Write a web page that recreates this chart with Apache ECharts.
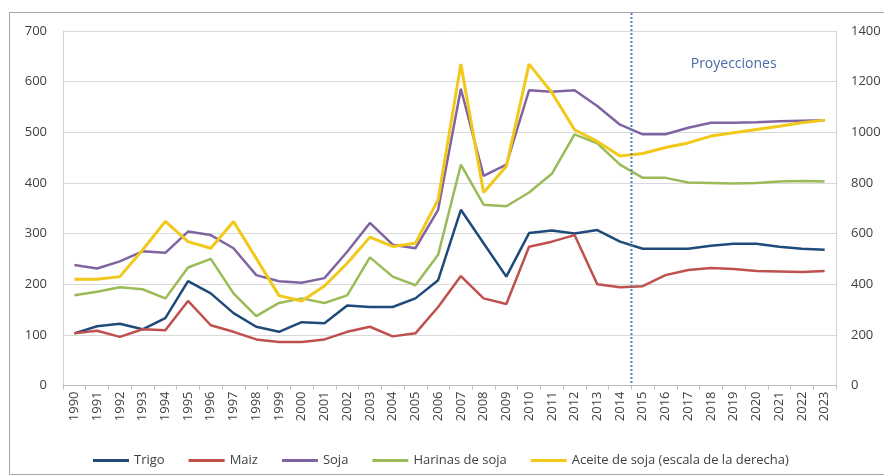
<!DOCTYPE html>
<html><head><meta charset="utf-8">
<script src="https://cdn.jsdelivr.net/npm/echarts@6/dist/echarts.min.js"></script>
<style>html,body{margin:0;padding:0;background:#fff}#c{width:884px;height:476px}</style>
</head><body><div id="c"></div>
<script>
const years = ['1990','1991','1992','1993','1994','1995','1996','1997','1998','1999','2000','2001','2002','2003','2004','2005','2006','2007','2008','2009','2010','2011','2012','2013','2014','2015','2016','2017','2018','2019','2020','2021','2022','2023'];
const trigo   = [103,117,122,111,133,206,182,143,116,106,125,123,158,155,155,172,208,347,281,215,301,306,300,307,284,270,270,270,276,280,280,274,270,268];
const maiz    = [103,108,96,111,109,167,119,106,91,86,86,91,106,116,97,103,155,216,172,161,274,284,297,200,194,196,218,228,232,230,226,225,224,226];
const soja    = [238,231,245,265,262,304,297,271,218,206,203,212,264,321,278,271,347,586,414,436,583,580,583,552,515,496,496,509,519,519,520,522,523,524];
const harinas = [178,185,194,190,172,233,250,182,137,163,172,163,178,253,215,198,258,436,357,354,381,418,496,478,436,410,410,401,400,399,400,403,404,403];
const aceite  = [420,420,430,535,648,568,542,648,502,355,334,393,483,586,549,562,734,1270,762,866,1269,1157,1010,964,906,916,940,958,985,998,1011,1024,1038,1048];
const leftTicks = {min:0, max:700, interval:100};
const rightTicks = {min:0, max:1400, interval:200};
const names = ['Trigo','Maiz','Soja','Harinas de soja','Aceite de soja (escala de la derecha)'];
const colors = ['#1f4a7a','#c0504d','#8064a2','#9bbb59','#f2c81a'];

const font = 'Open Sans';
const chart = echarts.init(document.getElementById('c'), null, {renderer:'canvas'});
function mk(name, data, color, yIdx, w){
  return {name, type:'line', data, yAxisIndex:yIdx, symbol:'none', smooth:false,
    lineStyle:{color, width:w}, itemStyle:{color}};
}
const option = {
  animation:false,
  textStyle:{fontFamily:font},
  grid:{left:63, right:48, top:31, bottom:90.5},
  legend:{left:88, top:449, icon:'rect', itemWidth:36, itemHeight:3, itemGap:24,
    textStyle:{fontFamily:font, fontSize:13, color:'#404040'}, data:names},
  xAxis:{type:'category', data:years, boundaryGap:true,
    axisLine:{lineStyle:{color:'#bfbfbf'}},
    axisTick:{show:true, interval:0, length:4, lineStyle:{color:'#bfbfbf'}},
    axisLabel:{interval:0, rotate:90, fontSize:13, color:'#404040', margin:6, fontFamily:font},
    splitLine:{show:false}},
  yAxis:[
    {type:'value', min:leftTicks.min, max:leftTicks.max, interval:leftTicks.interval,
     axisLine:{show:true, lineStyle:{color:'#d0d0d0'}}, axisTick:{show:false},
     axisLabel:{fontSize:13, color:'#404040', margin:16, fontFamily:font, formatter:v=>String(v)},
     splitLine:{lineStyle:{color:'#d9d9d9'}}},
    {type:'value', position:'right', min:rightTicks.min, max:rightTicks.max, interval:rightTicks.interval,
     axisLine:{show:true, lineStyle:{color:'#d0d0d0'}}, axisTick:{show:false},
     axisLabel:{fontSize:13, color:'#404040', margin:15, fontFamily:font, formatter:v=>String(v)},
     splitLine:{show:false}}
  ],
  series:[
    mk(names[0], trigo, colors[0], 0, 2.5),
    mk(names[1], maiz, colors[1], 0, 2.5),
    mk(names[2], soja, colors[2], 0, 2.5),
    mk(names[3], harinas, colors[3], 0, 2.5),
    mk(names[4], aceite, colors[4], 1, 3)
  ]
};
chart.setOption(option);
const xa = chart.convertToPixel({xAxisIndex:0}, '2014');
const xb = chart.convertToPixel({xAxisIndex:0}, '2015');
const xd = Math.round((xa + xb) / 2) + 0.5;
const y0 = chart.convertToPixel({yAxisIndex:0}, 0);
const xt = chart.convertToPixel({xAxisIndex:0}, '2019');
const yt = chart.convertToPixel({yAxisIndex:0}, 634);
chart.setOption({graphic:[
  {type:'rect', shape:{x:9.5, y:12.5, width:890, height:462}, style:{fill:null, stroke:'#a6a6a6', lineWidth:1}, z:0, silent:true},
  {type:'line', shape:{x1:xd, y1:13, x2:xd, y2:y0}, style:{stroke:'#4f81bd', lineWidth:2, lineDash:[2,2]}, z:10},
  {type:'text', x:xt, y:yt, style:{text:'Proyecciones', fill:'#4a6aa5', font:'14px "Open Sans"', align:'center', verticalAlign:'middle'}, z:10}
]});
</script></body></html>
